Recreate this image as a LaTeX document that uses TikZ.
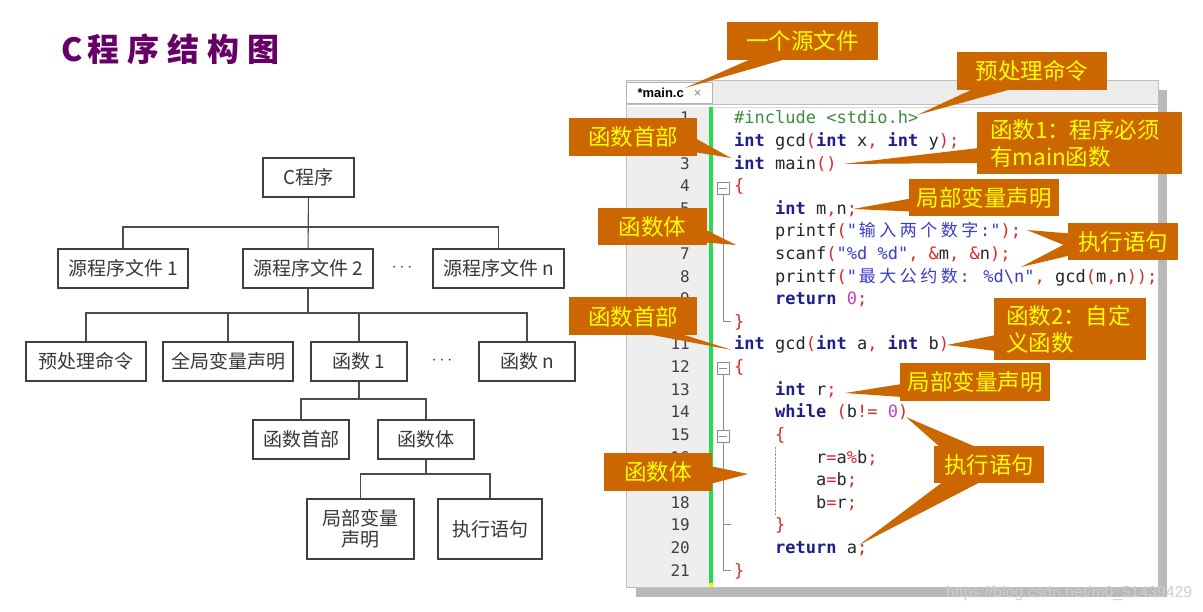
\documentclass[tikz,border=0pt]{standalone}
\usepackage{fontspec}
\usepackage{xcolor}
\usepackage{tikz}
\setmainfont{Liberation Sans}
\newfontfamily\cjk{Noto Sans CJK SC}
\newfontfamily\codefont{DejaVu Sans Mono}
\definecolor{calloutorange}{RGB}{204,102,0}
\definecolor{calloutyellow}{RGB}{255,255,0}
\definecolor{titlepurple}{RGB}{102,0,102}
\definecolor{kwblue}{RGB}{30,30,140}
\definecolor{pured}{RGB}{220,40,40}
\definecolor{strblue}{RGB}{60,60,200}
\definecolor{nummag}{RGB}{200,60,200}
\definecolor{ppgreen}{RGB}{60,140,60}
\definecolor{guttergray}{RGB}{238,238,238}
\definecolor{foldgreen}{RGB}{40,220,80}
\definecolor{shadowgray}{RGB}{185,185,185}
\definecolor{tabgray}{RGB}{236,236,236}
\definecolor{markgray}{RGB}{205,205,205}
\newcommand\kw[1]{\textcolor{kwblue}{\bfseries #1}}
\newcommand\pu[1]{\textcolor{pured}{#1}}
\newcommand\st[1]{\textcolor{strblue}{#1}}
\newcommand\nm[1]{\textcolor{nummag}{#1}}
\newcommand\zc[1]{\makebox[20.5pt]{\cjk #1}}
\tikzset{
  tbox/.style={draw=black!75, line width=1.1pt, fill=white, inner sep=0pt, text=black!78, font=\cjk\fontsize{19}{21}\selectfont},
  tline/.style={draw=black!70, line width=1.1pt},
  callout/.style={fill=calloutorange, text=calloutyellow, inner sep=0pt, font=\cjk\fontsize{22.5}{27}\selectfont},
  wedge/.style={fill=calloutorange},
  code/.style={anchor=base west, inner sep=0pt, text=black!85, font=\codefont\fontsize{17}{20}\selectfont},
  lnum/.style={anchor=base east, inner sep=0pt, text=black!75, font=\codefont\fontsize{16}{20}\selectfont},
  foldbox/.style={draw=black!45, fill=white, minimum size=12pt, inner sep=0pt},
  foldline/.style={draw=black!45, line width=0.8pt},
}
\begin{document}
\begin{tikzpicture}[x=1pt, y=-1pt]
  \fill[white] (0,0) rectangle (1203,612);
  \useasboundingbox (0,0) rectangle (1203,612);
  \node[anchor=west, inner sep=0pt, text=titlepurple, font=\cjk\bfseries\fontsize{32}{36}\selectfont] (title) at (61,49) {C\hspace{5pt}程\hspace{8pt}序\hspace{8pt}结\hspace{8pt}构\hspace{8pt}图};

  \node[tbox, minimum width=91pt, minimum height=39pt] (root) at (308.5,177.5) {C程序};
  \node[tbox, minimum width=130pt, minimum height=39pt] (src1) at (123,268.5) {源程序文件 1};
  \node[tbox, minimum width=130pt, minimum height=39pt] (src2) at (308,268.5) {源程序文件 2};
  \node[font=\fontsize{17}{18}\selectfont, text=black!80] (dots1) at (402,268) {$\cdots$};
  \node[tbox, minimum width=131pt, minimum height=39pt] (srcn) at (498.5,268.5) {源程序文件 n};
  \node[tbox, minimum width=120pt, minimum height=39pt] (pre) at (86,361.5) {预处理命令};
  \node[tbox, minimum width=130pt, minimum height=39pt] (glob) at (228,361.5) {全局变量声明};
  \node[tbox, minimum width=96pt, minimum height=39pt] (fun1) at (359,361.5) {函数 1};
  \node[font=\fontsize{17}{18}\selectfont, text=black!80] (dots2) at (442,361) {$\cdots$};
  \node[tbox, minimum width=96pt, minimum height=39pt] (funn) at (527,361.5) {函数 n};
  \node[tbox, minimum width=96pt, minimum height=39pt] (head) at (301,439.5) {函数首部};
  \node[tbox, minimum width=96pt, minimum height=39pt] (body) at (426,439.5) {函数体};
  \node[tbox, minimum width=107pt, minimum height=60pt, align=center] (local) at (360.5,529) {局部变量\\声明};
  \node[tbox, minimum width=104pt, minimum height=60pt] (exec) at (490,529) {执行语句};
  \draw[tline] (root) -- (src2);
  \draw[tline] (src1.north) |- (srcn.north |- 0,227) -- (srcn.north);
  \draw[tline] (src2.south) -- (src2.south |- 0,313);
  \draw[tline] (pre.north) |- (funn.north |- 0,313) -- (funn.north);
  \draw[tline] (glob.north) -- (glob.north |- 0,313);
  \draw[tline] (fun1.north) -- (fun1.north |- 0,313);
  \draw[tline] (fun1.south) -- (fun1.south |- 0,399);
  \draw[tline] (head.north) |- (body.north |- 0,399) -- (body.north);
  \draw[tline] (body.south) -- (body.south |- 0,474);
  \draw[tline] (local.north) |- (exec.north |- 0,474) -- (exec.north);

  \fill[shadowgray] (636,90) rectangle (1167,597);
  \fill[white] (626,80) rectangle (1158,587);
  \fill[tabgray] (626,80) rectangle (1158,104);
  \draw[black!25] (626,104) -- (1158,104);
  \draw[black!15] (626,107) -- (1158,107);
  \fill[guttergray] (626,107) rectangle (709,587);
  \fill[foldgreen] (709,107) rectangle (713,587);
  \fill[yellow] (709,583) rectangle (713,587);
  \draw[black!25] (626,80) rectangle (1158,587);
  \node[draw=black!30, fill=white, inner sep=0pt, minimum width=86pt, minimum height=21pt, font=\fontsize{13}{15}\selectfont] (tab) at (669.5,93) {\bfseries *main.c\hspace{10pt}\mdseries\textcolor{black!50}{×}};

  \node[lnum] (n1) at (690,124) {1};
  \node[lnum] (n2) at (690,146.6) {2};
  \node[lnum] (n3) at (690,169.2) {3};
  \node[lnum] (n4) at (690,191.8) {4};
  \node[lnum] (n5) at (690,214.4) {5};
  \node[lnum] (n7) at (690,259.6) {7};
  \node[lnum] (n8) at (690,282.2) {8};
  \node[lnum] (n9) at (690,304.8) {9};
  \node[lnum] (n11) at (690,350) {11};
  \node[lnum] (n12) at (690,372.6) {12};
  \node[lnum] (n13) at (690,395.2) {13};
  \node[lnum] (n14) at (690,417.8) {14};
  \node[lnum] (n15) at (690,440.4) {15};
  \node[lnum] (n16) at (690,463) {16};
  \node[lnum] (n18) at (690,508.2) {18};
  \node[lnum] (n19) at (690,530.8) {19};
  \node[lnum] (n20) at (690,553.4) {20};
  \node[lnum] (n21) at (690,576) {21};

  \coordinate (end10) at (731,321.4);
  \coordinate (end21) at (731,570);
  \coordinate (tick19) at (731,524.8);
  \node[foldbox] (f4) at (723,188) {};
  \node[foldbox] (f12) at (723,368.6) {};
  \draw[foldline] (f4.south) |- (end10);
  \draw[foldline] (f12.south) |- (end21);
  \draw[foldline] (f12.south |- tick19) -- (tick19);
  \node[foldbox] (f15) at (723,436.4) {};
  \draw[foldline] ([xshift=2.5pt]f4.west) -- ([xshift=-2.5pt]f4.east);
  \draw[foldline] ([xshift=2.5pt]f12.west) -- ([xshift=-2.5pt]f12.east);
  \draw[foldline] ([xshift=2.5pt]f15.west) -- ([xshift=-2.5pt]f15.east);
  \draw[densely dotted, black!40] (775.5,447) -- (775.5,515);

  \node[code] (c1) at (734,124) {\textcolor{ppgreen}{\#include <stdio.h>}};
  \node[code] (c2) at (734,146.6) {\kw{int} gcd\pu{(}\kw{int} x\pu{,} \kw{int} y\pu{);}};
  \node[code] (c3) at (734,169.2) {\kw{int} main\pu{()}};
  \node[code] (c4) at (734,191.8) {\pu{\{}};
  \node[code] (c5) at (775,214.4) {\kw{int} m\pu{,}n\pu{;}};
  \node[code] (c6) at (775,237) {printf\pu{(}\st{"\zc{输}\zc{入}\zc{两}\zc{个}\zc{数}\zc{字}:"}\pu{);}};
  \node[code] (c7) at (775,259.6) {scanf\pu{(}\st{"\%d \%d"}\pu{,} \pu{\&}m\pu{,} \pu{\&}n\pu{);}};
  \node[code] (c8) at (775,282.2) {printf\pu{(}\st{"\zc{最}\zc{大}\zc{公}\zc{约}\zc{数}: \%d\textbackslash n"}\pu{,} gcd\pu{(}m\pu{,}n\pu{));}};
  \node[code] (c9) at (775,304.8) {\kw{return} \nm{0}\pu{;}};
  \node[code] (c10) at (734,327.4) {\pu{\}}};
  \node[code] (c11) at (734,350) {\kw{int} gcd\pu{(}\kw{int} a\pu{,} \kw{int} b\pu{)}};
  \node[code] (c12) at (734,372.6) {\pu{\{}};
  \node[code] (c13) at (775,395.2) {\kw{int} r\pu{;}};
  \node[code] (c14) at (775,417.8) {\kw{while} \pu{(}b\pu{!=} \nm{0}\pu{)}};
  \node[code] (c15) at (775,440.4) {\pu{\{}};
  \node[code] (c16) at (816,463) {r\pu{=}a\pu{\%}b\pu{;}};
  \node[code] (c17) at (816,485.6) {a\pu{=}b\pu{;}};
  \node[code] (c18) at (816,508.2) {b\pu{=}r\pu{;}};
  \node[code] (c19) at (775,530.8) {\pu{\}}};
  \node[code] (c20) at (775,553.4) {\kw{return} a\pu{;}};
  \node[code] (c21) at (734,576) {\pu{\}}};

  \node[anchor=west, inner sep=0pt, text=markgray, font=\fontsize{15.75}{18}\selectfont] (mark) at (946,593) {https://blog.csdn.net/m0\_51439429};

  \coordinate (t1) at (685,88);
  \coordinate (t2) at (917,115);
  \coordinate (t3) at (731,158);
  \coordinate (t4) at (843,164);
  \coordinate (t5) at (853,209);
  \coordinate (t6) at (736,245);
  \coordinate (t7a) at (1027,230);
  \coordinate (t7b) at (1021,267);
  \coordinate (t8) at (732,350);
  \coordinate (t9) at (947,345);
  \coordinate (t10) at (845,393);
  \coordinate (t11a) at (906,417);
  \coordinate (t11b) at (859,545);
  \coordinate (t12) at (748,474);
  \node[callout, minimum width=151pt, minimum height=38pt] (srcfile) at (802.5,41) {一个源文件};
  \fill[wedge] ([xshift=26pt,yshift=2pt]srcfile.south west) -- (t1) -- ([xshift=62pt,yshift=2pt]srcfile.south west) -- cycle;
  \node[callout, minimum width=150pt, minimum height=38pt] (ppcmd) at (1032,71) {预处理命令};
  \fill[wedge] ([xshift=18pt,yshift=2pt]ppcmd.south west) -- (t2) -- ([xshift=58pt,yshift=2pt]ppcmd.south west) -- cycle;
  \node[callout, minimum width=128pt, minimum height=38pt] (head1) at (633,137) {函数首部};
  \fill[wedge] ([xshift=-2pt,yshift=18pt]head1.south east) -- (t3) -- ([xshift=-2pt,yshift=4pt]head1.south east) -- cycle;
  \node[callout, minimum height=62pt, text width=179pt, inner xsep=13pt, align=left] (main1) at (1079.5,143) {函数1：程序必须\\有main函数};
  \fill[wedge] ([xshift=2pt,yshift=-5pt]main1.west) -- (t4) -- ([xshift=2pt,yshift=-20pt]main1.west) -- cycle;
  \node[callout, minimum width=150pt, minimum height=37pt] (local1) at (984,197.5) {局部变量声明};
  \fill[wedge] ([xshift=2pt,yshift=-1pt]local1.west) -- (t5) -- ([xshift=2pt,yshift=-14pt]local1.west) -- cycle;
  \node[callout, minimum width=109pt, minimum height=37pt] (body1) at (652.5,226.5) {函数体};
  \fill[wedge] ([xshift=-2pt,yshift=-3pt]body1.east) -- (t6) -- ([xshift=-2pt,yshift=-16pt]body1.east) -- cycle;
  \node[callout, minimum width=110pt, minimum height=37pt] (exec1) at (1123,241.5) {执行语句};
  \fill[wedge] ([xshift=2pt,yshift=8pt]exec1.west) -- (t7a) -- ([xshift=2pt,yshift=-6pt]exec1.west) -- cycle;
  \fill[wedge] ([xshift=2pt]exec1.west) -- (t7b) -- ([xshift=2pt,yshift=-14pt]exec1.west) -- cycle;
  \node[callout, minimum width=128pt, minimum height=38pt] (head2) at (633,316.5) {函数首部};
  \fill[wedge] ([xshift=-52pt,yshift=2pt]head2.south east) -- (t8) -- ([xshift=-17pt,yshift=2pt]head2.south east) -- cycle;
  \node[callout, minimum height=62pt, text width=128pt, inner xsep=12pt, align=left] (fun2) at (1070,329) {函数2：自定\\义函数};
  \fill[wedge] ([xshift=2pt,yshift=-6pt]fun2.west) -- (t9) -- ([xshift=2pt,yshift=-22pt]fun2.west) -- cycle;
  \node[callout, minimum width=150pt, minimum height=38pt] (local2) at (975,382) {局部变量声明};
  \fill[wedge] ([xshift=2pt,yshift=-2pt]local2.west) -- (t10) -- ([xshift=2pt,yshift=-15pt]local2.west) -- cycle;
  \node[callout, minimum width=110pt, minimum height=37pt] (exec2) at (989,464.5) {执行语句};
  \fill[wedge] ([xshift=7pt,yshift=-2pt]exec2.north west) -- (t11a) -- ([xshift=44pt,yshift=-2pt]exec2.north west) -- cycle;
  \fill[wedge] ([xshift=10pt,yshift=2pt]exec2.south west) -- (t11b) -- ([xshift=48pt,yshift=2pt]exec2.south west) -- cycle;
  \node[callout, minimum width=108pt, minimum height=38pt] (body2) at (658,472) {函数体};
  \fill[wedge] ([xshift=-2pt,yshift=6pt]body2.east) -- (t12) -- ([xshift=-2pt,yshift=-12pt]body2.east) -- cycle;
\end{tikzpicture}
\end{document}
